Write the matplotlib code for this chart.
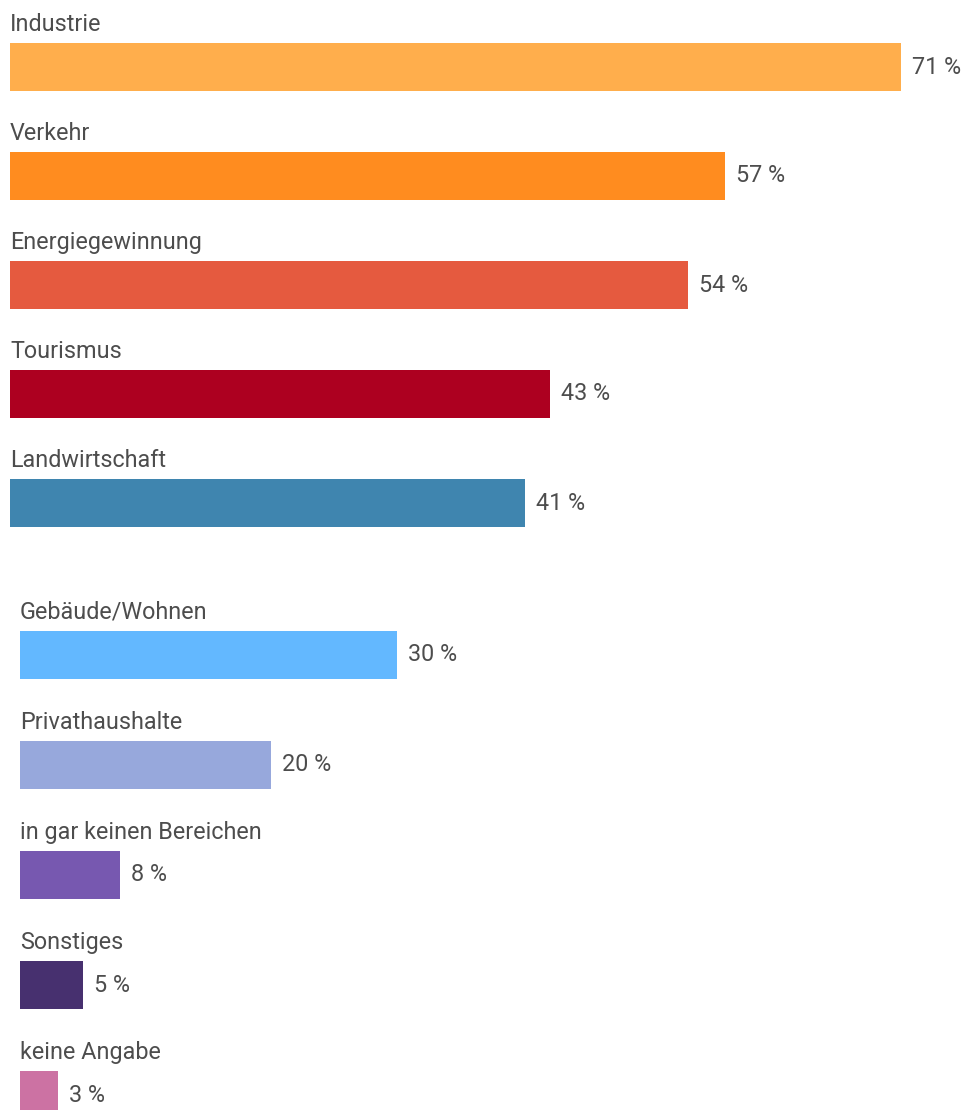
import matplotlib
matplotlib.use('Agg')
from matplotlib import pyplot as plt

# Sectors, split into the two blocks of the chart
top_labels = ['Industrie', 'Verkehr', 'Energiegewinnung', 'Tourismus', 'Landwirtschaft']
top_values = [71, 57, 54, 43, 41]
top_colors = ['#FFAE4C', '#FF8C1F', '#E55A3F', '#AD0020', '#3F85AF']

bottom_labels = ['Gebäude/Wohnen', 'Privathaushalte', 'in gar keinen Bereichen',
                 'Sonstiges', 'keine Angabe']
bottom_values = [30, 20, 8, 5, 3]
bottom_colors = ['#63B8FF', '#97A8DC', '#7758B0', '#47306F', '#CC72A3']

W, H = 968, 1110
PX_PER_PCT = 12.55
BAR_PX = 48
TEXT_COLOR = '#4d4d4d'
FONT_SIZE = 16.8

plt.rcParams['font.family'] = ['Roboto', 'DejaVu Sans']

fig = plt.figure(figsize=(W / 100, H / 100), dpi=100)


def block(left_px, first_center_px, step_px, labels, values, colors):
    # axes spans the full height; one y unit = one row, one x unit = one percent
    ax = fig.add_axes([left_px / W, 0, 1 - left_px / W, 1])
    ax.set_xlim(0, (W - left_px) / PX_PER_PCT)
    ax.set_ylim((H - first_center_px) / step_px, -first_center_px / step_px)
    ax.axis('off')
    rows = list(range(len(values)))
    ax.barh(rows, values, height=BAR_PX / step_px, color=colors, linewidth=0)
    for i, (name, v) in enumerate(zip(labels, values)):
        ax.text(0, i - (BAR_PX / 2 + 12) / step_px, name, fontsize=FONT_SIZE,
                color=TEXT_COLOR, ha='left', va='baseline')
        ax.text(v + 11 / PX_PER_PCT, i, f'{v} %', fontsize=FONT_SIZE,
                color=TEXT_COLOR, ha='left', va='center')
    return ax


block(10, 67, 109, top_labels, top_values, top_colors)
block(20, 655, 110, bottom_labels, bottom_values, bottom_colors)

fig.savefig('out.png', dpi=100, facecolor='white')
